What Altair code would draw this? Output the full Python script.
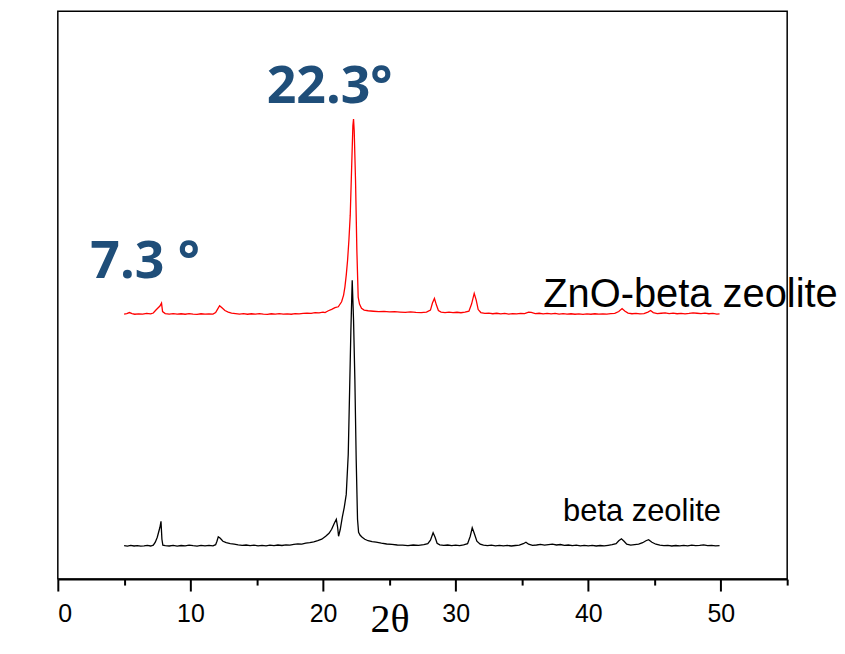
import altair as alt
import pandas as pd

# ---------------- data ----------------
beta_x = [5.0, 5.25, 5.5, 5.75, 6.0, 6.25, 6.5, 6.75, 7.0, 7.2, 7.35, 7.5, 7.6, 7.7, 7.78, 7.85, 7.92,
          8.1, 8.4, 8.7, 9.0, 9.3, 9.6, 9.9, 10.2, 10.5, 10.8, 11.1, 11.4, 11.7, 11.9, 12.0, 12.1,
          12.25, 12.45, 12.7, 13.0, 13.3, 13.6, 13.9, 14.2, 14.5, 14.8, 15.1, 15.4, 15.7, 16.0, 16.3,
          16.6, 16.9, 17.2, 17.5, 17.8, 18.1, 18.4, 18.7, 19.0, 19.3, 19.6, 19.9, 20.2, 20.45, 20.65,
          20.85, 21.0, 21.1, 21.17, 21.3, 21.45, 21.6, 21.75, 21.9, 22.0, 22.1, 22.2, 22.3, 22.4, 22.5,
          22.6, 22.68, 22.8, 22.95, 23.15, 23.4, 23.7, 24.0, 24.4, 24.8, 25.2, 25.6, 26.0, 26.4, 26.8,
          27.2, 27.6, 27.9, 28.1, 28.3, 28.45, 28.6, 28.8, 29.1, 29.4, 29.7, 30.0, 30.3, 30.6, 30.9,
          31.1, 31.25, 31.4, 31.6, 31.85, 32.1, 32.4, 32.7, 33.0, 33.3, 33.6, 33.9, 34.2, 34.5, 34.8,
          35.1, 35.3, 35.5, 35.8, 36.1, 36.4, 36.7, 37.0, 37.3, 37.6, 37.9, 38.2, 38.5, 38.8, 39.1,
          39.4, 39.7, 40.0, 40.3, 40.6, 40.9, 41.2, 41.5, 41.8, 42.1, 42.3, 42.5, 42.7, 42.9, 43.2,
          43.5, 43.8, 44.1, 44.35, 44.55, 44.8, 45.1, 45.4, 45.7, 46.0, 46.3, 46.6, 46.9, 47.2, 47.5,
          47.8, 48.1, 48.4, 48.7, 49.0, 49.3, 49.6, 49.9]
beta_y = [33.5, 33.0, 33.8, 33.2, 33.6, 33.0, 33.4, 33.9, 33.2, 34.0, 37.0, 42.0, 47.0, 52.0, 58.0, 40.0, 34.0,
          33.5, 33.2, 33.8, 33.1, 33.7, 33.3, 34.0, 33.5, 33.1, 33.8, 33.4, 33.9, 33.3, 34.5, 38.0, 42.5,
          41.0, 38.0, 36.5, 35.5, 35.0, 34.3, 33.8, 34.2, 33.5, 34.0, 33.3, 33.9, 33.4, 34.1, 33.6,
          34.2, 33.7, 34.4, 34.0, 34.8, 35.3, 35.0, 36.0, 36.5, 37.3, 38.5, 40.0, 43.0, 46.0, 50.0,
          56.0, 60.0, 52.0, 43.0, 50.0, 62.0, 72.0, 85.0, 125.0, 187.0, 250.0, 300.0, 260.0, 200.0, 120.0,
          60.0, 47.0, 44.0, 42.0, 40.0, 38.5, 37.5, 37.0, 36.0, 35.2, 34.8, 34.2, 34.0, 33.6, 34.2,
          33.8, 34.5, 35.5, 39.0, 46.5, 42.0, 36.0, 34.3, 33.8, 34.2, 33.6, 34.0, 33.5, 34.3, 35.5,
          43.0, 51.5, 46.0, 38.0, 35.0, 34.0, 33.6, 34.1, 33.4, 33.9, 33.3, 33.8, 33.2, 33.7, 34.0,
          35.5, 37.0, 35.0, 33.8, 34.2, 34.8, 34.0, 34.6, 35.0, 34.2, 34.7, 33.8, 34.2, 33.5, 34.0,
          33.4, 33.9, 33.3, 33.8, 33.2, 33.7, 33.3, 33.9, 34.5, 35.5, 38.5, 40.5, 38.0, 35.0, 34.0,
          34.5, 35.0, 36.5, 38.5, 39.5, 37.0, 35.0, 34.0, 33.5, 33.8, 33.2, 33.7, 33.3, 33.9, 33.4,
          34.0, 33.5, 33.9, 34.4, 33.6, 33.9, 33.3, 33.6]

zno_x = [5.0, 5.2, 5.4, 5.6, 5.8, 6.1, 6.4, 6.7, 7.0, 7.2, 7.4, 7.55, 7.7, 7.82, 7.9, 8.1, 8.4, 8.7,
         9.0, 9.3, 9.6, 9.9, 10.2, 10.5, 10.8, 11.1, 11.4, 11.7, 11.9, 12.05, 12.2, 12.4, 12.6, 12.85,
         13.1, 13.4, 13.7, 14.0, 14.3, 14.6, 14.9, 15.2, 15.5, 15.8, 16.1, 16.4, 16.7, 17.0, 17.3,
         17.6, 17.9, 18.2, 18.5, 18.8, 19.1, 19.4, 19.7, 20.0, 20.15, 20.4, 20.65, 20.9, 21.15, 21.4,
         21.55, 21.65, 21.75, 21.85, 21.95, 22.05, 22.15, 22.25, 22.3, 22.35, 22.45, 22.55, 22.65,
         22.75, 22.9, 23.1, 23.4, 23.8, 24.2, 24.6, 25.0, 25.4, 25.8, 26.2, 26.6, 27.0, 27.4, 27.8,
         28.1, 28.25, 28.4, 28.55, 28.7, 28.9, 29.2, 29.5, 29.8, 30.1, 30.4, 30.7, 31.0, 31.2, 31.4,
         31.55, 31.7, 31.9, 32.2, 32.5, 32.8, 33.1, 33.4, 33.7, 34.0, 34.3, 34.6, 34.9, 35.2, 35.5,
         35.7, 36.0, 36.3, 36.6, 36.9, 37.2, 37.5, 37.8, 38.1, 38.4, 38.7, 39.0, 39.3, 39.6, 39.9,
         40.2, 40.5, 40.8, 41.1, 41.4, 41.7, 42.0, 42.3, 42.55, 42.75, 43.0, 43.3, 43.6, 43.9, 44.2,
         44.5, 44.7, 44.9, 45.2, 45.5, 45.8, 46.1, 46.4, 46.7, 47.0, 47.3, 47.6, 47.9, 48.2, 48.5,
         48.8, 49.1, 49.4, 49.7, 49.9]
zno_y = [266.0, 266.5, 267.5, 266.5, 265.8, 266.2, 266.0, 266.6, 266.2, 267.0, 270.0, 272.0, 274.0, 277.0,
         268.5, 266.5, 266.0, 266.4, 265.9, 266.3, 265.8, 266.4, 266.0, 265.7, 266.3, 265.9, 266.2,
         266.0, 267.5, 271.0, 274.3, 272.0, 269.5, 268.0, 267.0, 266.5, 266.0, 266.4, 265.8, 266.3,
         265.9, 266.5, 266.0, 265.7, 266.3, 265.9, 266.4, 266.0, 266.2, 265.8, 266.5, 266.1, 266.6,
         266.9, 266.7, 267.5, 267.2, 268.0, 267.5, 269.3, 270.7, 272.5, 273.3, 278.3, 285.0, 293.3,
         305.0, 320.0, 340.0, 365.0, 410.0, 455.0, 461.7, 450.0, 400.0, 330.0, 283.0, 276.0, 271.7,
         270.0, 269.3, 268.8, 268.4, 268.6, 268.2, 268.5, 268.0, 267.6, 268.2, 267.7, 267.4, 268.0,
         270.0, 277.0, 281.7, 275.0, 269.5, 268.0, 267.5, 268.0, 267.4, 267.8, 267.3, 268.0, 268.8,
         276.0, 286.7, 280.0, 270.5, 267.5, 266.6, 266.9, 266.3, 266.8, 266.2, 266.6, 266.0, 266.5,
         266.1, 266.7, 266.4, 268.0, 267.6, 266.4, 266.8, 266.2, 266.7, 266.1, 266.6, 266.0, 266.4,
         265.9, 266.3, 265.8, 266.2, 265.7, 266.1, 265.8, 266.3, 265.9, 266.2, 266.0, 266.4, 266.6,
         268.5, 271.5, 269.0, 267.0, 266.3, 266.6, 266.1, 266.5, 268.0, 269.5, 267.5, 266.4, 266.8,
         267.2, 266.5, 266.9, 266.3, 266.7, 266.2, 266.6, 267.2, 266.8, 266.4, 266.9, 266.3, 266.6,
         266.0, 266.2]

series_names = ["beta zeolite", "ZnO-beta zeolite"]
series_colors = ["#000000", "#ff0000"]

major_ticks = [0, 10, 20, 30, 40, 50]
minor_ticks = [5, 15, 25, 35, 45, 55]

peak_labels = ["22.3°", "7.3 °"]
peak_label_x = [15.75, 2.45]
peak_label_y = [478, 302]

series_label_x = [38.1, 36.6]
series_label_y = [58, 273]

# ---------------- build tables ----------------
df = pd.concat([
    pd.DataFrame({"two_theta": beta_x, "intensity": beta_y, "series": series_names[0]}),
    pd.DataFrame({"two_theta": zno_x, "intensity": zno_y, "series": series_names[1]}),
], ignore_index=True)

peaks_df = pd.DataFrame({"label": peak_labels, "x": peak_label_x, "y": peak_label_y})
beta_lbl = pd.DataFrame({"label": [series_names[0]], "x": [series_label_x[0]], "y": [series_label_y[0]]})
zno_lbl = pd.DataFrame({"label": [series_names[1]], "x": [series_label_x[1]], "y": [series_label_y[1]]})

xscale = alt.Scale(domain=[0, 55], nice=False, zero=False)
yscale = alt.Scale(domain=[0, 570], nice=False, zero=False)

major_axis = alt.Axis(
    orient="bottom", values=major_ticks, grid=False,
    domain=True, domainColor="black", domainWidth=2,
    ticks=True, tickSize=12, tickWidth=2, tickColor="black",
    labelFont="Liberation Sans", labelFontSize=25, labelColor="black",
    labelPadding=11, labelBaseline="top",
    title="2θ", titleFont="Liberation Serif", titleFontSize=40,
    titleFontWeight="normal", titleColor="black",
    titleX=333, titleY=53, titleAlign="center", titleBaseline="alphabetic",
)
minor_axis = alt.Axis(
    orient="bottom", values=minor_ticks, grid=False, domain=False,
    ticks=True, tickSize=6, tickWidth=2, tickColor="black",
    labels=False, title=None,
)
y_axis = alt.Axis(
    orient="left", grid=False, domain=False, ticks=False, labels=False,
    title="Intensity", titleFont="Liberation Serif", titleFontSize=41,
    titleFontWeight="bold", titleColor="black", titleAngle=270,
    titleX=-9, titleY=283, titleAlign="center", titleBaseline="alphabetic",
)

lines = alt.Chart(df).mark_line(strokeWidth=1.3, clip=True).encode(
    x=alt.X("two_theta:Q", scale=xscale, axis=major_axis),
    y=alt.Y("intensity:Q", scale=yscale, axis=y_axis),
    color=alt.Color("series:N", scale=alt.Scale(domain=series_names, range=series_colors), legend=None),
    detail="series:N",
)

minor = alt.Chart(df).mark_point(opacity=0).encode(
    x=alt.X("two_theta:Q", scale=xscale, axis=minor_axis),
    y=alt.Y("intensity:Q", scale=yscale, axis=None),
)

peak_text = alt.Chart(peaks_df).mark_text(
    align="left", baseline="alphabetic", font="Open Sans", fontWeight="bold",
    fontSize=52, color="#1f4e79",
).encode(
    x=alt.X("x:Q", scale=xscale, axis=None),
    y=alt.Y("y:Q", scale=yscale, axis=None),
    text="label:N",
)

beta_text = alt.Chart(beta_lbl).mark_text(
    align="left", baseline="alphabetic", font="Liberation Sans", fontSize=31, color="black",
).encode(
    x=alt.X("x:Q", scale=xscale, axis=None),
    y=alt.Y("y:Q", scale=yscale, axis=None),
    text="label:N",
)

zno_text = alt.Chart(zno_lbl).mark_text(
    align="left", baseline="alphabetic", font="Liberation Sans", fontSize=40, color="black",
).encode(
    x=alt.X("x:Q", scale=xscale, axis=None),
    y=alt.Y("y:Q", scale=yscale, axis=None),
    text="label:N",
)

chart = alt.layer(lines, minor, peak_text, beta_text, zno_text).resolve_axis(
    x="independent"
).properties(
    width=732, height=570,
    autosize=alt.AutoSizeParams(type="none"),
    padding={"left": 50, "top": 2, "right": 50, "bottom": 62},
    background="white",
).configure_view(
    stroke="black", strokeWidth=1.5,
)

chart.save("out.html", embed_options={"renderer": "svg", "actions": False})
